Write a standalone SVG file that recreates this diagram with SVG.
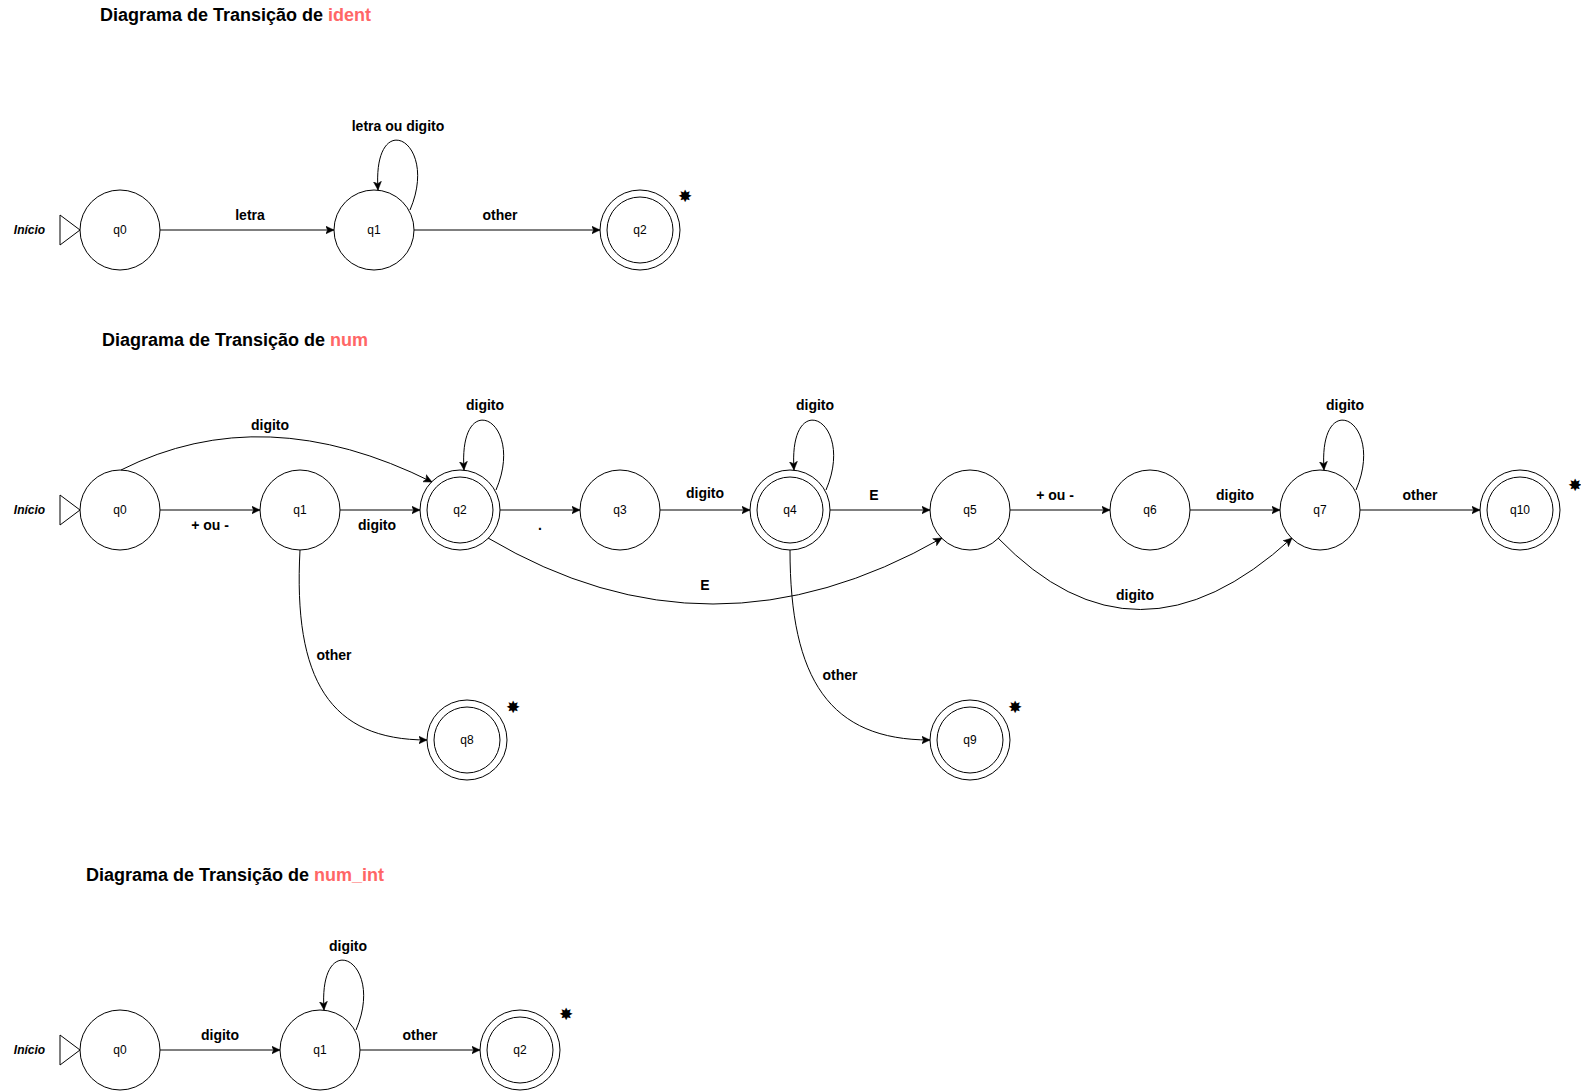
<svg xmlns="http://www.w3.org/2000/svg" width="1581" height="1091" viewBox="0 0 1581 1091">
<style>
.bg{fill:#ffffff}
.st{fill:#ffffff;stroke:#000000;stroke-width:1}
.nl{font-family:"Liberation Sans",Arial,Helvetica,sans-serif;font-size:12px;fill:#000000;text-anchor:middle}
.el{font-family:"Liberation Sans",Arial,Helvetica,sans-serif;font-size:14px;font-weight:bold;fill:#000000;text-anchor:middle}
.title{font-family:"Liberation Sans",Arial,Helvetica,sans-serif;font-size:18px;font-weight:bold;fill:#000000}
.hl{fill:#FF6666}
.start{font-family:"Liberation Sans",Arial,Helvetica,sans-serif;font-size:12px;font-weight:bold;font-style:italic;fill:#000000;text-anchor:middle}
.ast{font-family:"DejaVu Sans",sans-serif;font-size:17px;fill:#000000;text-anchor:middle}
.tri{fill:#ffffff;stroke:#000000;stroke-width:1}
.edge{fill:none;stroke:#000000;stroke-width:1;marker-end:url(#arr)}
</style>
<defs>
<marker id="arr" markerUnits="userSpaceOnUse" markerWidth="9" markerHeight="9" viewBox="0 0 9 9" refX="8.5" refY="4.5" orient="auto">
<path d="M0,0.5 L8.5,4.5 L0,8.5 L2.2,4.5 Z" fill="#000000" stroke="#000000" stroke-width="0.5"/>
</marker>
</defs>
<rect class="bg" x="0" y="0" width="1581" height="1091"/>

<g id="titles">
<text class="title" x="100" y="20.5">Diagrama de Transição de <tspan class="hl">ident</tspan></text>
<text class="title" x="102" y="345.5">Diagrama de Transição de <tspan class="hl">num</tspan></text>
<text class="title" x="86" y="880.5">Diagrama de Transição de <tspan class="hl">num_int</tspan></text>
</g>

<!-- ident -->
<g id="ident-start">
<polygon class="tri" points="60,215 80,230 60,245"/>
<text class="start" x="29.5" y="234">Início</text>
</g>
<g id="ident-q0"><circle class="st" cx="120" cy="230" r="40"/><text class="nl" x="120" y="234">q0</text></g>
<g id="ident-q1"><circle class="st" cx="374" cy="230" r="40"/><text class="nl" x="374" y="234">q1</text></g>
<g id="ident-q2"><circle class="st" cx="640" cy="230" r="40"/><circle class="st" cx="640" cy="230" r="33"/><text class="nl" x="640" y="234">q2</text><text class="ast" x="685" y="201.5">✸</text></g>

<!-- num -->
<g id="num-start">
<polygon class="tri" points="60,495 80,510 60,525"/>
<text class="start" x="29.5" y="514">Início</text>
</g>
<g id="num-q0"><circle class="st" cx="120" cy="510" r="40"/><text class="nl" x="120" y="514">q0</text></g>
<g id="num-q1"><circle class="st" cx="300" cy="510" r="40"/><text class="nl" x="300" y="514">q1</text></g>
<g id="num-q2"><circle class="st" cx="460" cy="510" r="40"/><circle class="st" cx="460" cy="510" r="33"/><text class="nl" x="460" y="514">q2</text></g>
<g id="num-q3"><circle class="st" cx="620" cy="510" r="40"/><text class="nl" x="620" y="514">q3</text></g>
<g id="num-q4"><circle class="st" cx="790" cy="510" r="40"/><circle class="st" cx="790" cy="510" r="33"/><text class="nl" x="790" y="514">q4</text></g>
<g id="num-q5"><circle class="st" cx="970" cy="510" r="40"/><text class="nl" x="970" y="514">q5</text></g>
<g id="num-q6"><circle class="st" cx="1150" cy="510" r="40"/><text class="nl" x="1150" y="514">q6</text></g>
<g id="num-q7"><circle class="st" cx="1320" cy="510" r="40"/><text class="nl" x="1320" y="514">q7</text></g>
<g id="num-q10"><circle class="st" cx="1520" cy="510" r="40"/><circle class="st" cx="1520" cy="510" r="33"/><text class="nl" x="1520" y="514">q10</text><text class="ast" x="1575" y="490.5">✸</text></g>
<g id="num-q8"><circle class="st" cx="467" cy="740" r="40"/><circle class="st" cx="467" cy="740" r="33"/><text class="nl" x="467" y="744">q8</text><text class="ast" x="513" y="712.5">✸</text></g>
<g id="num-q9"><circle class="st" cx="970" cy="740" r="40"/><circle class="st" cx="970" cy="740" r="33"/><text class="nl" x="970" y="744">q9</text><text class="ast" x="1015" y="712.5">✸</text></g>

<!-- num_int -->
<g id="numint-start">
<polygon class="tri" points="60,1035 80,1050 60,1065"/>
<text class="start" x="29.5" y="1054">Início</text>
</g>
<g id="numint-q0"><circle class="st" cx="120" cy="1050" r="40"/><text class="nl" x="120" y="1054">q0</text></g>
<g id="numint-q1"><circle class="st" cx="320" cy="1050" r="40"/><text class="nl" x="320" y="1054">q1</text></g>
<g id="numint-q2"><circle class="st" cx="520" cy="1050" r="40"/><circle class="st" cx="520" cy="1050" r="33"/><text class="nl" x="520" y="1054">q2</text><text class="ast" x="566" y="1019.5">✸</text></g>

<g id="connectors">
<!-- ident -->
<path class="edge" d="M160,230 L334,230"/>
<text class="el" x="250" y="220">letra</text>
<path class="edge" d="M410,210 C440,140 372,105 378,190"/>
<text class="el" x="398" y="131">letra ou digito</text>
<path class="edge" d="M414,230 L600,230"/>
<text class="el" x="500" y="220">other</text>

<!-- num -->
<path class="edge" d="M160,510 L260,510"/>
<text class="el" x="210" y="530">+ ou -</text>
<path class="edge" d="M340,510 L420,510"/>
<text class="el" x="377" y="530">digito</text>
<path class="edge" d="M121,470 Q264,398 432,482"/>
<text class="el" x="270" y="430">digito</text>
<path class="edge" d="M496,490 C526,420 458,385 464,470"/>
<text class="el" x="485" y="410">digito</text>
<path class="edge" d="M500,510 L580,510"/>
<text class="el" x="540" y="530">.</text>
<path class="edge" d="M660,510 L750,510"/>
<text class="el" x="705" y="498">digito</text>
<path class="edge" d="M826,490 C856,420 788,385 794,470"/>
<text class="el" x="815" y="410">digito</text>
<path class="edge" d="M830,510 L930,510"/>
<text class="el" x="874" y="500">E</text>
<path class="edge" d="M488,538 Q711,670 942,538"/>
<text class="el" x="705" y="590">E</text>
<path class="edge" d="M1010,510 L1110,510"/>
<text class="el" x="1055" y="500">+ ou -</text>
<path class="edge" d="M1190,510 L1280,510"/>
<text class="el" x="1235" y="500">digito</text>
<path class="edge" d="M1356,490 C1386,420 1318,385 1324,470"/>
<text class="el" x="1345" y="410">digito</text>
<path class="edge" d="M1360,510 L1480,510"/>
<text class="el" x="1420" y="500">other</text>
<path class="edge" d="M998,538 Q1136,681 1292,538"/>
<text class="el" x="1135" y="600">digito</text>
<path class="edge" d="M300,550 C293,680 330,740 427,740"/>
<text class="el" x="334" y="660">other</text>
<path class="edge" d="M790,550 C790,680 830,740 930,740"/>
<text class="el" x="840" y="680">other</text>

<!-- num_int -->
<path class="edge" d="M160,1050 L280,1050"/>
<text class="el" x="220" y="1040">digito</text>
<path class="edge" d="M356,1030 C386,960 318,925 324,1010"/>
<text class="el" x="348" y="951">digito</text>
<path class="edge" d="M360,1050 L480,1050"/>
<text class="el" x="420" y="1040">other</text>
</g>
</svg>
